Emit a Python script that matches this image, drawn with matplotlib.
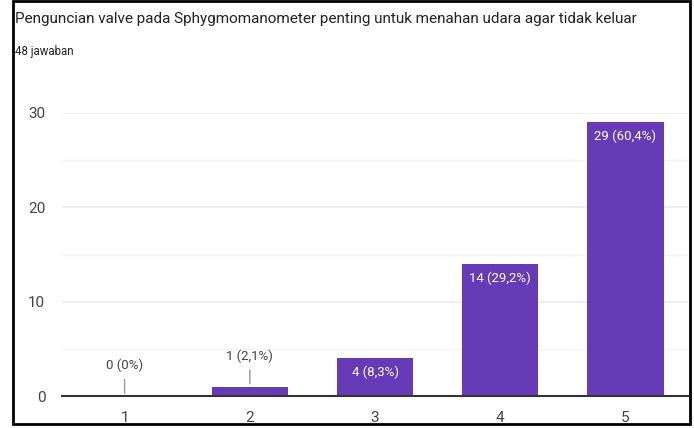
import matplotlib

matplotlib.use("Agg")
import matplotlib.pyplot as plt
from matplotlib.patches import Rectangle

# Data
categories = ["1", "2", "3", "4", "5"]
counts = [0, 1, 4, 14, 29]
labels = ["0 (0%)", "1 (2,1%)", "4 (8,3%)", "14 (29,2%)", "29 (60,4%)"]
title = "Penguncian valve pada Sphygmomanometer penting untuk menahan udara agar tidak keluar"
subtitle = "48 jawaban"

W, H = 694, 428
PURPLE = "#673ab7"
TEXT = "#444444"

plt.rcParams["font.family"] = ["Roboto", "DejaVu Sans"]

fig = plt.figure(figsize=(W / 100, H / 100), dpi=100)
fig.patch.set_facecolor("white")


def px(x0, y0, x1, y1):
    return [x0 / W, 1 - y1 / H, (x1 - x0) / W, (y1 - y0) / H]


ax = fig.add_axes(px(62, 113, 688, 396))
x = list(range(1, len(categories) + 1))
ax.bar(x, counts, width=0.61, color=PURPLE, zorder=2)
ax.set_xlim(0.5, 5.5)
ax.set_ylim(0, 30)

ax.set_yticks([0, 10, 20, 30])
ax.set_yticks([5, 15, 25], minor=True)
ax.set_xticks(x)
ax.set_xticklabels(categories)
ax.tick_params(axis="both", which="both", length=0, labelsize=11, colors=TEXT)
ax.tick_params(axis="y", pad=12)
ax.tick_params(axis="x", pad=11)
ax.grid(axis="y", which="major", color="#ebebeb", linewidth=1.2, zorder=0)
ax.grid(axis="y", which="minor", color="#f3f3f3", linewidth=1.0, zorder=0)
for s in ["top", "right", "left"]:
    ax.spines[s].set_visible(False)
ax.spines["bottom"].set_color("#333333")
ax.spines["bottom"].set_linewidth(1.5)
ax.spines["bottom"].set_zorder(3)

for xi, c, lab in zip(x, counts, labels):
    if c >= 3:
        ax.annotate(lab, (xi, c), xytext=(0, -10), textcoords="offset points",
                    ha="center", va="center", color="white", fontsize=9.5, zorder=4)
    else:
        ax.annotate("", (xi, c), xytext=(0, 14), textcoords="offset points",
                    arrowprops=dict(arrowstyle="-", color="#999999", lw=1))
        ax.annotate(lab, (xi, c), xytext=(0, 22), textcoords="offset points",
                    ha="center", va="center", color=TEXT, fontsize=9.5)

fig.text(15 / W, 1 - 19 / H, title, fontsize=11, color="#222222",
         ha="left", va="center")
fig.text(15 / W, 1 - 52 / H, subtitle, fontsize=8.3, color="#222222",
         ha="left", va="center")

# white strip under the frame, then the black frame
fig.patches.append(Rectangle((0, 0), 1, 4 / H, transform=fig.transFigure,
                             facecolor="white", edgecolor="none", zorder=10))
fig.patches.append(Rectangle((13 / W, 4 / H), (690 - 13) / W, (424 - 1) / H,
                             transform=fig.transFigure, facecolor="none",
                             edgecolor="black", linewidth=2, zorder=11))

fig.savefig("out.png", dpi=100, facecolor="white")
